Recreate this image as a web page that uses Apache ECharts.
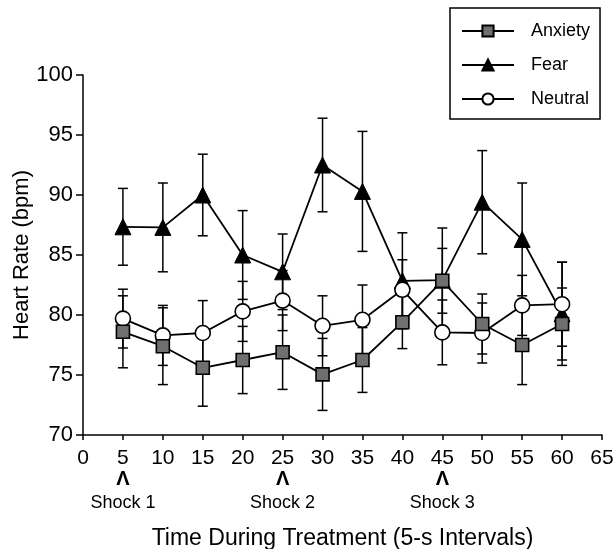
<!DOCTYPE html>
<html>
<head>
<meta charset="utf-8">
<script src="https://cdn.jsdelivr.net/npm/echarts@6/dist/echarts.min.js"></script>
<style>
html,body{margin:0;padding:0;background:#fff;}
#chart{width:616px;height:549px;}
</style>
</head>
<body>
<div id="chart"></div>
<script>
// data
var times = [5, 10, 15, 20, 25, 30, 35, 40, 45, 50, 55, 60];
var anxiety    = [78.6, 77.4, 75.6, 76.25, 76.9, 75.05, 76.25, 79.4, 82.85, 79.25, 77.5, 79.25];
var anxietyErr = [3.0, 3.2, 3.2, 2.8, 3.1, 3.0, 2.7, 2.2, 2.7, 2.5, 3.3, 3.0];
var fear       = [87.35, 87.3, 90.0, 85.0, 83.6, 92.5, 90.3, 82.85, 82.9, 89.4, 86.3, 80.1];
var fearErr    = [3.2, 3.7, 3.4, 3.7, 3.15, 3.9, 5.0, 4.0, 4.35, 4.3, 4.7, 4.3];
var neutral    = [79.7, 78.3, 78.5, 80.3, 81.2, 79.1, 79.6, 82.1, 78.55, 78.5, 80.8, 80.9];
var neutralErr = [2.45, 2.5, 2.7, 2.5, 2.5, 2.5, 2.9, 2.5, 2.7, 2.5, 2.5, 3.5];
var shockTimes = [5, 25, 45];
var shockNames = ['Shock 1', 'Shock 2', 'Shock 3'];

var FONT = 'Liberation Sans';

function pts(vals){
	return times.map(function(t, i){ return [t, vals[i]]; });
}
function bars(vals, errs){
	return times.map(function(t, i){ return [t, vals[i] - errs[i], vals[i] + errs[i]]; });
}
function errorBar(params, api){
	var x = api.value(0);
	var lo = api.coord([x, api.value(1)]);
	var hi = api.coord([x, api.value(2)]);
	var w = 5;
	var st = {stroke: '#000', lineWidth: 1.5};
	return {
		type: 'group',
		children: [
			{type: 'line', shape: {x1: lo[0], y1: lo[1], x2: hi[0], y2: hi[1]}, style: st},
			{type: 'line', shape: {x1: lo[0] - w, y1: lo[1], x2: lo[0] + w, y2: lo[1]}, style: st},
			{type: 'line', shape: {x1: hi[0] - w, y1: hi[1], x2: hi[0] + w, y2: hi[1]}, style: st}
		]
	};
}

var myChart = echarts.init(document.getElementById('chart'));
var option = {
	animation: false,
	backgroundColor: '#fff',
	grid: {left: 83, right: 14, top: 75, bottom: 114, containLabel: false, outerBoundsMode: 'none'},
	legend: {
		data: ['Anxiety', 'Fear', 'Neutral'],
		orient: 'vertical',
		left: 450, top: 8,
		padding: [14, 10, 11, 11],
		itemWidth: 52, itemHeight: 14, itemGap: 16,
		borderColor: '#000', borderWidth: 1.5,
		textStyle: {fontFamily: FONT, fontSize: 18, color: '#000', padding: [0, 0, 0, 12]}
	},
	xAxis: {
		type: 'value', min: 0, max: 65, interval: 5,
		name: 'Time During Treatment (5-s Intervals)',
		nameLocation: 'middle', nameGap: 92,
		nameTextStyle: {fontFamily: FONT, fontSize: 23, color: '#000'},
		axisLine: {lineStyle: {color: '#000', width: 1.5}},
		axisTick: {length: 5, lineStyle: {color: '#000', width: 1.5}},
		axisLabel: {fontFamily: FONT, fontSize: 21, color: '#000', margin: 13},
		splitLine: {show: false}
	},
	yAxis: {
		type: 'value', min: 70, max: 100, interval: 5,
		name: 'Heart Rate (bpm)',
		nameLocation: 'middle', nameGap: 50, nameMoveOverlap: false,
		nameTextStyle: {fontFamily: FONT, fontSize: 22, color: '#000'},
		axisLine: {show: true, lineStyle: {color: '#000', width: 1.5}},
		axisTick: {show: true, length: 7, lineStyle: {color: '#000', width: 1.5}},
		axisLabel: {fontFamily: FONT, fontSize: 22, color: '#000', margin: 10},
		splitLine: {show: false}
	},
	series: [
		{type: 'custom', name: 'fearErr', renderItem: errorBar, data: bars(fear, fearErr), z: 1, silent: true},
		{type: 'custom', name: 'neutralErr', renderItem: errorBar, data: bars(neutral, neutralErr), z: 1, silent: true},
		{type: 'custom', name: 'anxietyErr', renderItem: errorBar, data: bars(anxiety, anxietyErr), z: 1, silent: true},
		{
			name: 'Fear', type: 'line', data: pts(fear), z: 3,
			symbol: 'triangle', symbolSize: 16,
			lineStyle: {color: '#000', width: 1.8},
			itemStyle: {color: '#000', borderColor: '#000', borderWidth: 1}
		},
		{
			name: 'Neutral', type: 'line', data: pts(neutral), z: 4,
			symbol: 'circle', symbolSize: 15,
			lineStyle: {color: '#000', width: 1.8},
			itemStyle: {color: '#fff', borderColor: '#000', borderWidth: 1.6}
		},
		{
			name: 'Anxiety', type: 'line', data: pts(anxiety), z: 5,
			symbol: 'rect', symbolSize: 13,
			lineStyle: {color: '#000', width: 1.8},
			itemStyle: {color: '#6f6f6f', borderColor: '#000', borderWidth: 1.6}
		}
	]
};
myChart.setOption(option);

// shock markers under the x axis
var marks = [];
shockTimes.forEach(function(t, i){
	var px = myChart.convertToPixel({xAxisIndex: 0}, t);
	marks.push({type: 'text', x: px, y: 479, style: {text: '\u039B', fontFamily: FONT, fontSize: 20, fontWeight: 'bold', fill: '#000', align: 'center', verticalAlign: 'middle'}});
	marks.push({type: 'text', x: px, y: 503, style: {text: shockNames[i], fontFamily: FONT, fontSize: 18, fill: '#000', align: 'center', verticalAlign: 'middle'}});
});
myChart.setOption({graphic: marks});
</script>
</body>
</html>
